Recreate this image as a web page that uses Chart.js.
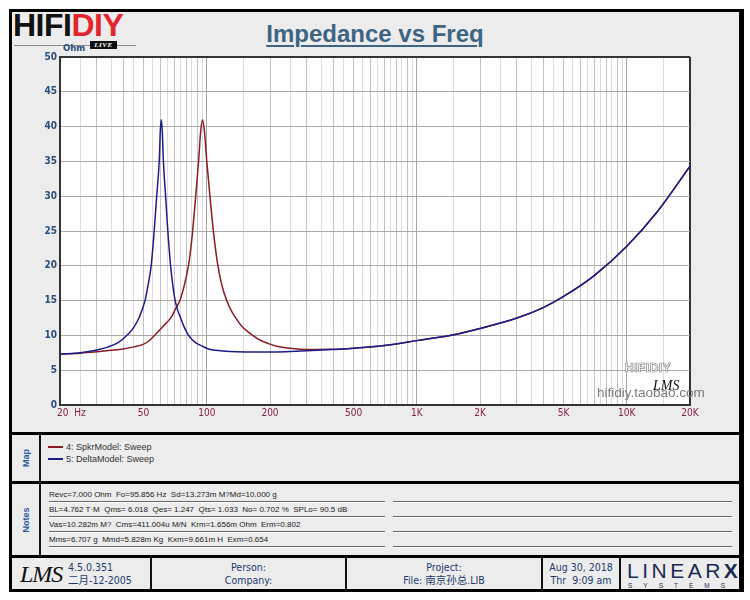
<!DOCTYPE html>
<html><head><meta charset="utf-8">
<script src="https://cdn.jsdelivr.net/npm/chart.js@4.4.1/dist/chart.umd.min.js"></script>
<style>
body{margin:0;width:750px;height:600px;background:#fff;position:relative;overflow:hidden;font-family:'Liberation Sans',Arial,sans-serif;}
.abs{position:absolute;}
.narrow{font-family:'Liberation Sans Narrow','DejaVu Sans Condensed','Noto Sans CJK SC',sans-serif;}
.hbar{position:absolute;left:9px;width:735px;height:3px;background:#000;}
.vline{position:absolute;width:2px;background:#111;}
.note{position:absolute;height:14px;border-bottom:1px solid #666;box-shadow:0 1px 0 #fff;font-size:8px;line-height:15px;color:#1a1a1a;white-space:nowrap;}
.foot{position:absolute;top:561px;height:28px;text-align:center;font-size:10.5px;line-height:12.5px;color:#1d3b6c;}
</style></head>
<body>
<div class="abs" style="left:9px;top:9px;width:735px;height:583px;border:3px solid #000;border-right-width:5px;box-sizing:border-box;background:#ececec;"></div>

<!-- logo -->
<div class="abs" style="left:13px;top:9px;font-weight:bold;font-size:32px;line-height:32px;letter-spacing:-0.5px;white-space:nowrap;"><span style="color:#111">HIFI</span><span style="color:#e3262e">DIY</span></div>
<div class="abs" style="left:14px;top:45px;width:122px;height:1px;background:#8a8a8a;"></div>
<div class="abs" style="left:90px;top:41px;width:27px;height:8px;background:#111;color:#fff;font:italic bold 7px 'Liberation Serif',serif;line-height:8px;text-align:center;letter-spacing:0.5px;">LIVE</div>
<div class="abs narrow" style="left:63px;top:43px;font-size:9.5px;font-weight:bold;color:#2b4d7a;line-height:10px;">Ohm</div>

<!-- title -->
<div class="abs" style="left:0;top:22px;width:750px;text-align:center;font-weight:bold;font-size:24px;line-height:24px;color:#3d6482;text-decoration:underline;text-decoration-thickness:2px;text-underline-offset:3px;">Impedance vs Freq</div>

<canvas id="c" width="750" height="430" class="abs" style="left:0;top:0;"></canvas>

<!-- watermarks -->
<div class="abs" style="left:625px;top:362px;font-weight:bold;font-size:12px;line-height:12px;color:#fff;-webkit-text-stroke:0.7px #888;letter-spacing:0.5px;">HIFIDIY</div>
<div class="abs" style="left:597px;top:386px;font-size:13.5px;line-height:14px;color:#7a7a7a;white-space:nowrap;">hifidiy.taobao.com</div>
<div class="abs" style="left:653px;top:379px;font:italic 14px 'Liberation Serif',serif;line-height:14px;color:#111;">LMS</div>

<!-- section bars -->
<div class="hbar" style="top:432px;"></div>
<div class="hbar" style="top:481px;"></div>
<div class="hbar" style="top:555px;"></div>
<div class="vline" style="left:39px;top:435px;height:120px;"></div>

<div class="abs" style="left:12px;top:453px;width:28px;text-align:center;transform:rotate(-90deg);font-weight:bold;font-size:9px;line-height:10px;color:#2a5aa0;">Map</div>
<div class="abs" style="left:6px;top:515px;width:40px;text-align:center;transform:rotate(-90deg);font-weight:bold;font-size:9px;line-height:10px;color:#2a5aa0;">Notes</div>

<!-- legend -->
<div class="abs" style="left:48px;top:446px;width:15px;height:2px;background:#8b1c24;"></div>
<div class="abs" style="left:66px;top:442px;font-size:9px;line-height:10px;color:#333;">4: SpkrModel: Sweep</div>
<div class="abs" style="left:48px;top:458px;width:15px;height:2px;background:#1c1c8b;"></div>
<div class="abs" style="left:66px;top:454px;font-size:9px;line-height:10px;color:#333;">5: DeltaModel: Sweep</div>

<!-- notes -->
<div class="note" style="left:49px;top:487px;width:336px;">Revc=7.000 Ohm&nbsp; Fo=95.856 Hz&nbsp; Sd=13.273m M?Md=10.000 g</div>
<div class="note" style="left:49px;top:502px;width:336px;">BL=4.762 T·M&nbsp; Qms= 6.018&nbsp; Qes= 1.247&nbsp; Qts= 1.033&nbsp; No= 0.702 %&nbsp; SPLo= 90.5 dB</div>
<div class="note" style="left:49px;top:517px;width:336px;">Vas=10.282m M?&nbsp; Cms=411.004u M/N&nbsp; Krm=1.656m Ohm&nbsp; Erm=0.802</div>
<div class="note" style="left:49px;top:532px;width:336px;">Mms=6.707 g&nbsp; Mmd=5.828m Kg&nbsp; Kxm=9.661m H&nbsp; Exm=0.654</div>
<div class="note" style="left:393px;top:487px;width:339px;"></div>
<div class="note" style="left:393px;top:502px;width:339px;"></div>
<div class="note" style="left:393px;top:517px;width:339px;"></div>
<div class="note" style="left:393px;top:532px;width:339px;"></div>

<!-- footer -->
<div class="vline" style="left:150px;top:558px;height:31px;"></div>
<div class="vline" style="left:345px;top:558px;height:31px;"></div>
<div class="vline" style="left:541px;top:558px;height:31px;"></div>
<div class="vline" style="left:619px;top:558px;height:31px;"></div>
<div class="abs" style="left:20px;top:561px;font:italic 24px 'Liberation Serif',serif;line-height:26px;color:#111;letter-spacing:-1px;">LMS</div>
<div class="foot narrow" style="left:68px;width:80px;text-align:left;">4.5.0.351<br>二月-12-2005</div>
<div class="foot narrow" style="left:152px;width:193px;">Person:<br>Company:</div>
<div class="foot narrow" style="left:347px;width:194px;">Project:<br>File: 南京孙总.LIB</div>
<div class="foot narrow" style="left:543px;width:76px;">Aug 30, 2018<br>Thr&nbsp; 9:09 am</div>
<div class="abs" style="left:627px;top:560px;font-size:21px;line-height:22px;color:#1a2a55;letter-spacing:3.5px;font-weight:300;white-space:nowrap;">LINEAR<span style="font-weight:bold;letter-spacing:0">X</span></div>
<div class="abs" style="left:628px;top:582px;font-size:6.5px;line-height:7px;color:#1a2a55;letter-spacing:11px;white-space:nowrap;">SYSTEMS</div>

<script>
// ---- data ----
const redFreq = [20, 25, 30, 35, 40, 45, 50, 53, 56.6, 62, 68, 71, 74.6, 78, 81.7, 84, 85.7, 88.5, 91.5, 93.5, 95.5, 97.5, 99.9, 103.6, 107.4, 112.7, 118, 124.4, 130, 136, 148, 160.6, 180, 200, 215, 250, 300, 400, 500, 700, 1000, 1500, 2000, 3000, 4000, 5000, 7000, 10000, 14000, 20000];
const redZ    = [7.3, 7.45, 7.65, 7.85, 8.05, 8.35, 8.75, 9.2, 10.05, 11.3, 12.7, 13.8, 15.1, 17.1, 19.9, 22.6, 25.1, 29.9, 35.2, 39.3, 41.0, 39.3, 35.2, 29.9, 25.1, 20.2, 17.2, 15.0, 13.7, 12.7, 11.2, 10.3, 9.3, 8.75, 8.45, 8.15, 7.98, 8.0, 8.15, 8.55, 9.25, 10.1, 11.0, 12.5, 14.0, 15.6, 18.6, 22.8, 27.8, 34.3];
const blueFreq = [20, 25, 30, 34, 38, 42.3, 45, 47.7, 50.8, 52.5, 54.3, 56.2, 57.7, 59.4, 60.05, 60.7, 61.4, 62.1, 63.7, 65.2, 67.3, 68.9, 70.6, 72.5, 74.6, 77.5, 80.8, 84, 88, 96, 103, 110, 120, 139, 170, 215, 250, 300, 400, 500, 700, 1000, 1500, 2000, 3000, 4000, 5000, 7000, 10000, 14000, 20000];
const blueZ    = [7.3, 7.5, 7.9, 8.35, 9.0, 10.2, 11.2, 12.6, 15.0, 17.2, 19.9, 25.1, 29.9, 35.2, 39.3, 41.0, 39.3, 35.2, 29.9, 25.1, 19.9, 17.2, 15.1, 13.7, 12.7, 11.4, 10.3, 9.6, 9.0, 8.4, 8.0, 7.85, 7.75, 7.65, 7.6, 7.62, 7.68, 7.78, 7.98, 8.15, 8.55, 9.25, 10.1, 11.0, 12.5, 14.0, 15.6, 18.6, 22.8, 27.8, 34.3];
const xLabelValues = [20, 50, 100, 200, 500, 1000, 2000, 5000, 10000, 20000];
const xLabelTexts  = ['        20  Hz', '50', '100', '200', '500', '1K', '2K', '5K', '10K', '20K'];
const gridSteps = [[20, 100, 5], [100, 1000, 50], [1000, 10000, 500], [10000, 20000, 5000]];
const yMin = 0, yMax = 50, yStep = 5;

const xGridFreqs = [];
gridSteps.forEach(([a, b, s]) => { for (let v = a; v < b - 1e-9; v += s) xGridFreqs.push(v); });
xGridFreqs.push(20000);

const tickFont = "'Liberation Sans Narrow','DejaVu Sans Condensed',sans-serif";

const bgPlugin = {
  id: 'bg',
  beforeDraw(chart) {
    const { ctx, chartArea: a } = chart;
    ctx.save(); ctx.fillStyle = '#ffffff';
    ctx.fillRect(a.left, a.top, a.right - a.left, a.bottom - a.top);
    ctx.restore();
  }
};

function isRound(v) {
  const p = Math.pow(10, Math.floor(Math.log10(v) + 1e-9));
  return Math.abs(v / p - Math.round(v / p)) < 1e-6;
}

new Chart(document.getElementById('c'), {
  type: 'line',
  data: {
    datasets: [
      { label: '4: SpkrModel: Sweep', data: redFreq.map((f, i) => ({ x: f, y: redZ[i] })),
        borderColor: '#8b1c24', borderWidth: 1.5, pointRadius: 0, fill: false, cubicInterpolationMode: 'monotone', order: 1 },
      { label: '5: DeltaModel: Sweep', data: blueFreq.map((f, i) => ({ x: f, y: blueZ[i] })),
        borderColor: '#1c1c8b', borderWidth: 1.5, pointRadius: 0, fill: false, cubicInterpolationMode: 'monotone', order: 0 }
    ]
  },
  options: {
    responsive: false, animation: false,
    layout: { padding: { left: 0, right: 60, top: 57, bottom: 0 } },
    plugins: { legend: { display: false }, tooltip: { enabled: false } },
    scales: {
      x: {
        type: 'logarithmic', min: 20, max: 20000,
        afterBuildTicks: s => { s.ticks = xGridFreqs.map(v => ({ value: v })); },
        afterFit: s => { s.height = 25; },
        ticks: {
          autoSkip: false, maxRotation: 0, minRotation: 0, padding: 2,
          color: '#8b2040', font: { family: tickFont, size: 10 },
          callback: v => { const i = xLabelValues.indexOf(v); return i >= 0 ? xLabelTexts[i] : ''; }
        },
        grid: {
          tickLength: 0,
          color: c => { const v = c.tick.value; if (v === 20000) return '#333'; if (v === 100 || v === 1000 || v === 10000) return '#a4a4a4'; return isRound(v) ? '#c2c2c2' : '#dcdcdc'; },
          lineWidth: c => c.tick.value === 20000 ? 2 : 1
        },
        border: { color: '#333', width: 2 }
      },
      y: {
        min: yMin, max: yMax,
        afterFit: s => { s.width = 60; },
        ticks: { stepSize: yStep, padding: 3, color: '#2b4d7a', font: { family: tickFont, size: 10, weight: 'bold' } },
        grid: {
          tickLength: 0,
          color: c => c.tick.value === yMax ? '#333' : '#a9a9a9',
          lineWidth: c => c.tick.value === yMax ? 2 : 1
        },
        border: { color: '#333', width: 2 }
      }
    }
  },
  plugins: [bgPlugin]
});
</script>
</body></html>
